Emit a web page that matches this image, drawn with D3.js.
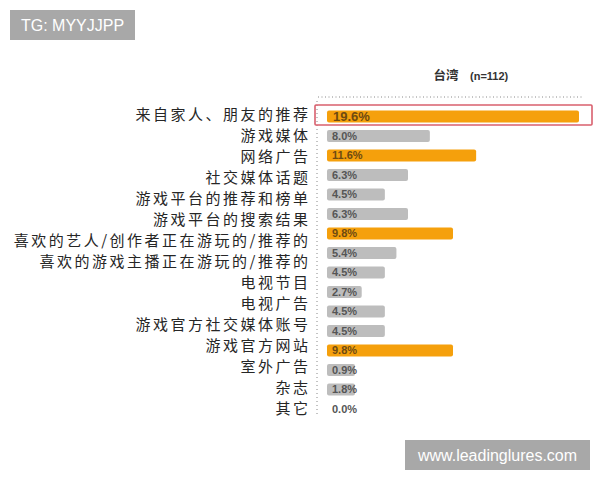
<!DOCTYPE html>
<html><head><meta charset="utf-8">
<script src="https://cdn.jsdelivr.net/npm/d3@7"></script>
<style>body{margin:0;background:#fff}</style>
</head><body>
<script>
const labels = ["来自家人、朋友的推荐","游戏媒体","网络广告","社交媒体话题","游戏平台的推荐和榜单","游戏平台的搜索结果","喜欢的艺人/创作者正在游玩的/推荐的","喜欢的游戏主播正在游玩的/推荐的","电视节目","电视广告","游戏官方社交媒体账号","游戏官方网站","室外广告","杂志","其它"];
const values = [19.6, 8.0, 11.6, 6.3, 4.5, 6.3, 9.8, 5.4, 4.5, 2.7, 4.5, 4.5, 9.8, 0.9, 1.8, 0.0];
const highlighted = [0, 2, 6, 12];
const title = ["台湾", "(n=112)"];
const watermarks = ["TG: MYYJJPP", "www.leadinglures.com"];

const W = 600, H = 480;
const svg = d3.select("body").append("svg").attr("width", W).attr("height", H);

const x = d3.scaleLinear().domain([0, 19.6]).range([327, 579]);
const yBar = d3.scaleBand().domain(d3.range(values.length)).range([106.75, 418.75]).paddingInner(0.38).paddingOuter(0.19);
const yLab = d3.scalePoint().domain(labels).range([115, 409]);

// title
svg.append("text").attr("x", 446).attr("y", 80).attr("text-anchor", "middle")
  .attr("font-family", "Noto Sans CJK SC").attr("font-weight", "bold").attr("font-size", 12.5).attr("fill", "#333").text(title[0]);
svg.append("text").attr("x", 470).attr("y", 80)
  .attr("font-family", "Liberation Sans, Arial").attr("font-weight", "bold").attr("font-size", 11).attr("fill", "#333").text(title[1]);

// dotted axes
svg.append("line").attr("x1", 318).attr("x2", 582).attr("y1", 97).attr("y2", 97)
  .attr("stroke", "#888").attr("stroke-width", 1).attr("stroke-dasharray", "1,2.5");
svg.append("line").attr("x1", 317).attr("x2", 317).attr("y1", 101).attr("y2", 416)
  .attr("stroke", "#888").attr("stroke-width", 1).attr("stroke-dasharray", "1,3");

// bars
const rows = values.map((v, i) => ({v, i}));
const g = svg.append("g");
g.selectAll("rect.bar").data(rows.filter(d => d.v > 0)).join("rect").attr("class", "bar")
  .attr("x", x(0))
  .attr("y", d => yBar(d.i))
  .attr("height", yBar.bandwidth())
  .attr("width", d => Math.max(x(d.v) - x(0), 28))
  .attr("rx", 2)
  .attr("fill", d => highlighted.includes(d.i) ? "#f5a00c" : "#bdbdbd");

// value labels
g.selectAll("text.val").data(rows).join("text").attr("class", "val")
  .attr("x", d => x(0) + (d.i === 0 ? 6 : 5))
  .attr("y", d => yBar(d.i) + yBar.bandwidth() / 2)
  .attr("dy", "0.36em")
  .attr("font-family", "Liberation Sans, Arial")
  .attr("font-weight", "bold")
  .attr("font-size", d => d.i === 0 ? 13 : 11)
  .attr("fill", d => highlighted.includes(d.i) ? "#6e4a12" : "#555")
  .text(d => d.v.toFixed(1) + "%");

// highlight rectangle
svg.append("rect").attr("x", 315).attr("y", 105).attr("width", 277).attr("height", 20)
  .attr("fill", "none").attr("stroke", "#d9606e").attr("stroke-width", 1.6).attr("rx", 1);

// category labels
svg.selectAll("text.cat").data(labels).join("text").attr("class", "cat")
  .attr("x", 310.5)
  .attr("y", d => yLab(d))
  .attr("dy", "0.36em")
  .attr("text-anchor", "end")
  .attr("font-family", "Noto Sans CJK SC")
  .attr("font-size", 15)
  .attr("letter-spacing", 2.5)
  .attr("fill", "#262626")
  .text(d => d);

// watermarks
const wm = [{t: watermarks[0], x: 10, y: 10, w: 125, h: 30}, {t: watermarks[1], x: 405, y: 440, w: 185, h: 30}];
wm.forEach(m => {
  svg.append("rect").attr("x", m.x).attr("y", m.y).attr("width", m.w).attr("height", m.h).attr("fill", "#a8a8a8");
  svg.append("text").attr("x", m.x + m.w / 2).attr("y", m.y + m.h / 2).attr("dy", "0.36em")
    .attr("text-anchor", "middle").attr("font-family", "Liberation Sans, Arial").attr("font-size", 16)
    .attr("fill", "#fff").text(m.t);
});
</script>
</body></html>
